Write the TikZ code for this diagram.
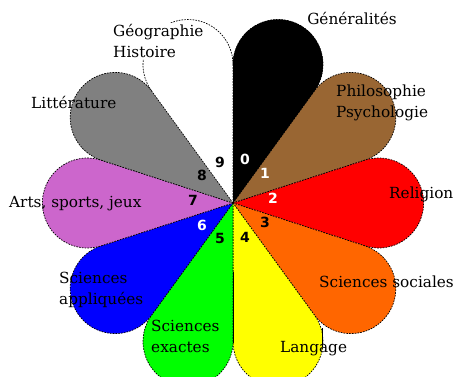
\documentclass[tikz,border=0pt]{standalone}
\usepackage{fontspec}
\setmainfont{DejaVu Serif}
\newfontfamily\digitfont{DejaVu Sans}
\definecolor{cbrown}{RGB}{153,102,51}
\definecolor{corange}{RGB}{255,102,0}
\definecolor{cyellow}{RGB}{255,255,0}
\definecolor{cgreen}{RGB}{0,255,0}
\definecolor{cblue}{RGB}{0,0,255}
\definecolor{cpurple}{RGB}{204,102,204}
\definecolor{cgray}{RGB}{128,128,128}
\definecolor{cred}{RGB}{255,0,0}
\begin{document}
\begin{tikzpicture}[x=1pt,y=1pt,
  outline/.style={draw=black, line width=0.7pt, dash pattern=on 1.6pt off 1.2pt},
  lbl/.style={font=\fontsize{15.3}{21}\selectfont, inner sep=0pt, align=left, anchor=west},
  num/.style={font=\digitfont\bfseries\fontsize{14}{14}\selectfont, inner sep=0pt}]
\useasboundingbox (0,0) rectangle (458,376);
\coordinate (C) at (233,173);
\def\L{138.5}
\def\R{45}
% petal 9 (Geographie, Histoire): only its outline
\draw[outline] (C) ++(90:\L) arc[start angle=0, end angle=216, radius=\R];
% coloured petals
\foreach \a/\col in {72/black,36/cbrown,0/cred,-36/corange,-72/cyellow,-108/cgreen,-144/cblue,180/cpurple,144/cgray}{
  \filldraw[fill=\col, outline] (C) -- ++({\a-18}:\L) arc[start angle={\a-108}, end angle={\a+108}, radius=\R] -- cycle;
}
\fill[black] (C) -- ++(54:\L) arc[start angle=-36, end angle=180, radius=\R] -- cycle;
% solid parts of outlines
\coordinate (y1) at (233,104);
\coordinate (y2) at (233,33);
\draw[line width=0.8pt] (y1) -- (y2);
\coordinate (y3) at (322.5,48);
\coordinate (y4) at (322.5,29);
\draw[line width=0.8pt] (y3) -- (y4);
% labels
\node[lbl, anchor=center] (l0) at (352,358) {Généralités};
\node[lbl] (l1) at (336,273.5) {Philosophie\\Psychologie};
\node[lbl] (l2) at (389,182) {Religion};
\node[lbl] (l3) at (319,94) {Sciences sociales};
\node[lbl] (l4) at (280,27) {Langage};
\node[lbl] (l5) at (151,39.5) {Sciences\\exactes};
\node[lbl] (l6) at (59,86.5) {Sciences\\appliquées};
\node[lbl] (l7) at (9,172) {Arts, sports, jeux};
\node[lbl] (l8) at (31,274) {Littérature};
\node[lbl, fill=white, inner sep=1pt] (l9) at (112,335) {Géographie\\Histoire};
% digits
\node[num, text=white] (n0) at (245,217) {0};
\node[num, text=white] (n1) at (265,203) {1};
\node[num, text=white] (n2) at (273,178) {2};
\node[num] (n3) at (265,154) {3};
\node[num] (n4) at (245,139) {4};
\node[num] (n5) at (220,138) {5};
\node[num, text=white] (n6) at (202,151) {6};
\node[num] (n7) at (193,176) {7};
\node[num] (n8) at (202,201) {8};
\node[num] (n9) at (220,214) {9};
\end{tikzpicture}
\end{document}
